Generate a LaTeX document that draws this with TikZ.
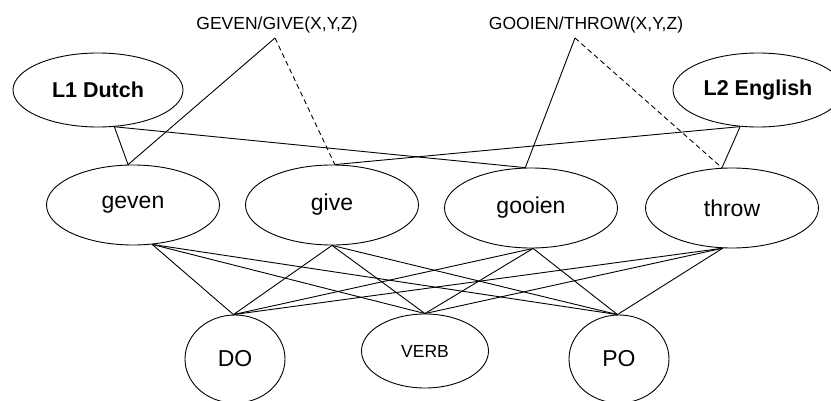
\documentclass[tikz,border=0pt]{standalone}
\usepackage{fontspec}
\setmainfont{Liberation Sans}
\usetikzlibrary{shapes.geometric}
\begin{document}
\begin{tikzpicture}[x=1pt,y=-1pt,
  ell/.style={draw, ellipse, inner sep=0pt, line width=0.9pt},
  big/.style={font=\fontsize{21.5}{21.5}\selectfont\bfseries},
  word/.style={font=\fontsize{23}{23}\selectfont},
  small/.style={font=\fontsize{17.5}{17.5}\selectfont},
  lbl/.style={font=\fontsize{17.5}{17.5}\selectfont, inner sep=0pt},
  conn/.style={line width=0.9pt},
  dconn/.style={conn, dash pattern=on 5pt off 3.5pt}]
\clip (0,0) rectangle (831,401);
% language nodes
\node[ell, big, minimum width=170pt, minimum height=74pt] (L1) at (98,90) {L1 Dutch};
\node[ell, big, minimum width=170pt, minimum height=74pt] (L2) at (758,90) {L2 English};
% word nodes
\node[ell, word, minimum width=173pt, minimum height=80pt] (geven) at (133,205) {geven};
\node[ell, word, minimum width=173pt, minimum height=80pt] (give) at (332,205) {give};
\node[ell, word, minimum width=173pt, minimum height=80pt] (gooien) at (531,208) {gooien};
\node[ell, word, minimum width=173pt, minimum height=80pt] (throw) at (732,208) {throw};
% structure nodes
\node[ell, word, minimum width=100pt, minimum height=88pt] (DO) at (235,359) {DO};
\node[ell, small, minimum width=127pt, minimum height=74pt] (VERB) at (425,351) {VERB};
\node[ell, word, minimum width=100pt, minimum height=88pt] (PO) at (619,359) {PO};
% lemma labels
\node[lbl] (gglbl) at (277,25) {GEVEN/GIVE(X,Y,Z)};
\node[lbl] (gtlbl) at (586,25) {GOOIEN/THROW(X,Y,Z)};
\coordinate (gga) at (275,38);
\coordinate (gta) at (575,38);
% lemma connections
\draw[conn] (gga) -- (geven.97);
\draw[dconn] (gga) -- (give.86);
\draw[conn] (gta) -- (gooien.98);
\draw[dconn] (gta) -- (throw.104);
% language connections
\draw[conn] (L1.294) -- (geven.97);
\draw[conn] (L1.294) -- (gooien.98);
\draw[conn] (L2.244) -- (give.86);
\draw[conn] (L2.244) -- (throw.104);
% word to structure connections
\foreach \w/\a in {geven/296, give/270, gooien/273, throw/257}{
  \draw[conn] (\w.\a) -- (DO.92);
  \draw[conn] (\w.\a) -- (VERB.90);
  \draw[conn] (\w.\a) -- (PO.92);
}
\end{tikzpicture}
\end{document}
